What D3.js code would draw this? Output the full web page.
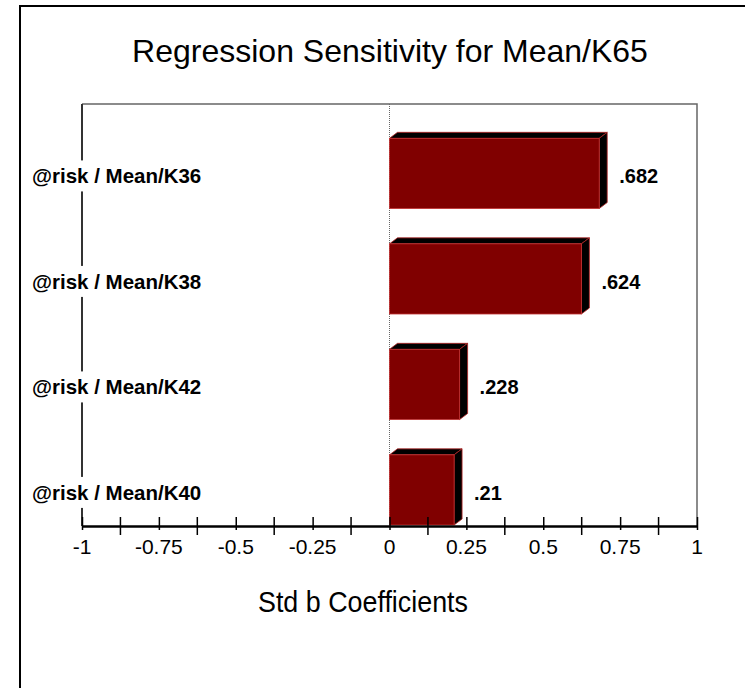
<!DOCTYPE html>
<html>
<head>
<meta charset="utf-8">
<script src="https://cdn.jsdelivr.net/npm/d3@7"></script>
<style>
  body { margin: 0; background: #fff; }
  text { font-family: "Liberation Sans", Arial, sans-serif; fill: #000; }
</style>
</head>
<body>
<div id="chart"></div>
<script>
const chartTitle = "Regression Sensitivity for Mean/K65";
const axisTitle = "Std b Coefficients";
const categories = ["@risk / Mean/K36", "@risk / Mean/K38", "@risk / Mean/K42", "@risk / Mean/K40"];
const coefficients = [0.682, 0.624, 0.228, 0.21];
const tickValues = [-1, -0.75, -0.5, -0.25, 0, 0.25, 0.5, 0.75, 1];
const tickLabels = ["-1", "-0.75", "-0.5", "-0.25", "0", "0.25", "0.5", "0.75", "1"];
const minorTicks = [-0.875, -0.625, -0.375, -0.125, 0.125, 0.375, 0.625, 0.875];

const w = 745;
const h = 688;
const pLeft = 82, pRight = 697, pTop = 104, pBottom = 526;
const dx = 8, dy = -6;

const svg = d3.select("#chart").append("svg")
  .attr("width", w)
  .attr("height", h);

// outer frame (only top and left visible)
svg.append("path")
  .attr("d", "M20," + h + "V6H" + w)
  .attr("fill", "none")
  .attr("stroke", "#000")
  .attr("stroke-width", 2);

svg.append("text")
  .attr("x", 390)
  .attr("y", 62)
  .attr("text-anchor", "middle")
  .style("font-size", "32px")
  .text(chartTitle);

const x = d3.scaleLinear().domain([-1, 1]).range([pLeft, pRight]);
const y = d3.scaleBand().domain(categories).range([pTop, pBottom]).padding(0);
const barH = y.bandwidth() * 0.665;

// plot border
svg.append("path")
  .attr("d", "M" + pLeft + "," + pTop + "H" + pRight + "V" + pBottom)
  .attr("fill", "none")
  .attr("stroke", "#666")
  .attr("stroke-width", 1.5);

svg.append("line")
  .attr("x1", x(0)).attr("x2", x(0))
  .attr("y1", pTop).attr("y2", pBottom)
  .attr("stroke", "#666")
  .attr("stroke-dasharray", "1,1");

// bars
const bars = svg.selectAll(".bar")
  .data(categories)
  .enter()
  .append("g")
  .attr("class", "bar");

bars.each(function(c, i) {
  const g = d3.select(this);
  const x0 = x(0), x1 = x(coefficients[i]);
  const y0 = y(c) + y.bandwidth() - barH - 1;
  const y1 = y0 + barH;
  g.append("polygon")
    .attr("points", [[x0, y0], [x0 + dx, y0 + dy], [x1 + dx, y0 + dy], [x1, y0]].join(" "))
    .attr("fill", "#000")
    .attr("stroke", "#b22222")
    .attr("stroke-width", 0.8);
  g.append("polygon")
    .attr("points", [[x1, y0], [x1 + dx, y0 + dy], [x1 + dx, y1 + dy], [x1, y1]].join(" "))
    .attr("fill", "#000")
    .attr("stroke", "#b22222")
    .attr("stroke-width", 0.8);
  g.append("rect")
    .attr("x", x0)
    .attr("y", y0)
    .attr("width", x1 - x0)
    .attr("height", barH)
    .attr("fill", "#800000")
    .attr("stroke", "#c03030")
    .attr("stroke-width", 0.8);
  g.append("text")
    .attr("x", x1 + dx + 12)
    .attr("y", (y0 + y1) / 2 + 10)
    .style("font-size", "20px")
    .style("font-weight", "bold")
    .text(d3.format(".3~f")(coefficients[i]).replace(/^0\./, "."));
});

// left axis line
svg.append("line")
  .attr("x1", pLeft).attr("x2", pLeft)
  .attr("y1", pTop).attr("y2", pBottom)
  .attr("stroke", "#333")
  .attr("stroke-width", 2);

// category labels with white backing
categories.forEach((c, i) => {
  const y0 = y(c) + y.bandwidth() - barH - 1;
  const t = svg.append("text")
    .attr("x", 32)
    .attr("y", y0 + barH / 2 + 10)
    .style("font-size", "20.5px")
    .style("font-weight", "bold")
    .text(c);
  const bb = t.node().getBBox();
  svg.append("rect")
    .attr("x", bb.x - 2)
    .attr("y", bb.y - 4)
    .attr("width", bb.width + 4)
    .attr("height", bb.height + 8)
    .attr("fill", "#fff");
  t.raise();
});

// x axis
const xAxis = d3.axisBottom(x)
  .tickValues(tickValues)
  .tickFormat("")
  .tickSizeOuter(0);

const gx = svg.append("g")
  .attr("transform", "translate(0," + pBottom + ")")
  .call(xAxis);

gx.select(".domain").attr("stroke", "#000").attr("stroke-width", 2.5);
gx.selectAll(".tick line").attr("y1", -9).attr("y2", 4).attr("stroke", "#000").attr("stroke-width", 1.5);
gx.selectAll(".tick text").remove();

gx.selectAll(".minor")
  .data(minorTicks)
  .enter()
  .append("line")
  .attr("class", "minor")
  .attr("x1", d => x(d)).attr("x2", d => x(d))
  .attr("y1", -9).attr("y2", 9)
  .attr("stroke", "#000")
  .attr("stroke-width", 1.5);

svg.selectAll(".tick-label")
  .data(tickValues)
  .enter()
  .append("text")
  .attr("class", "tick-label")
  .attr("x", d => x(d))
  .attr("y", pBottom + 28)
  .attr("text-anchor", "middle")
  .style("font-size", "21px")
  .text((d, i) => tickLabels[i]);

svg.append("text")
  .attr("x", 363)
  .attr("y", 612)
  .attr("text-anchor", "middle")
  .attr("textLength", 210)
  .attr("lengthAdjust", "spacingAndGlyphs")
  .style("font-size", "29px")
  .text(axisTitle);
</script>
</body>
</html>
